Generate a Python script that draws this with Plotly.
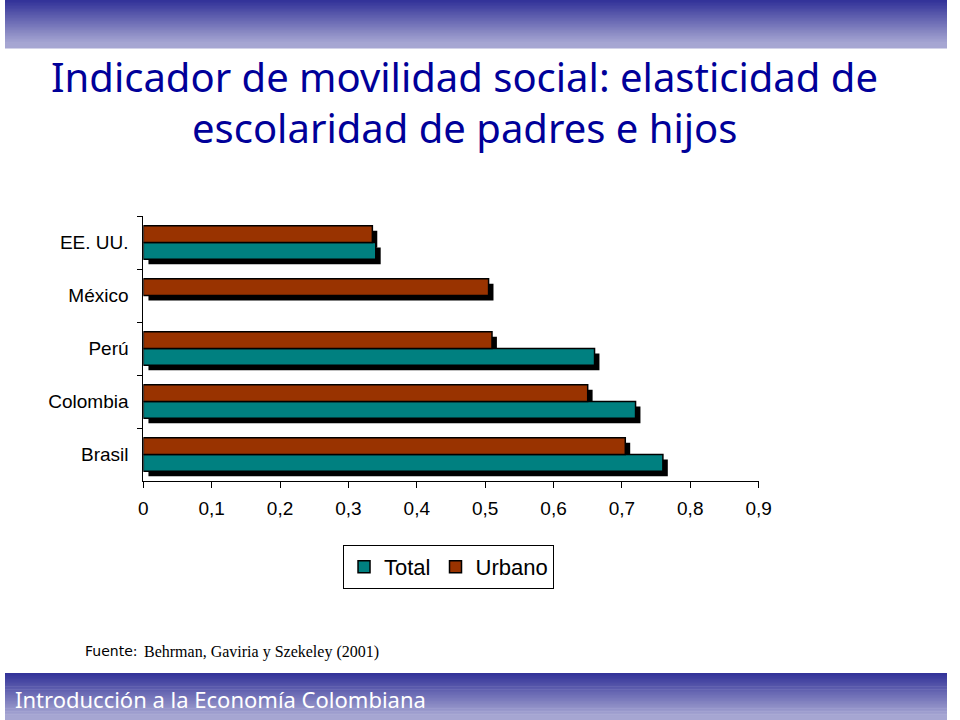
import plotly.graph_objects as go

# ------------------------------------------------------------
# Data
# ------------------------------------------------------------
paises = ["Brasil", "Colombia", "Perú", "México", "EE. UU."]
total = [0.76, 0.72, 0.66, None, 0.34]
urbano = [0.705, 0.65, 0.51, 0.505, 0.335]

titulo_1 = "Indicador de movilidad social: elasticidad de"
titulo_2 = "escolaridad de padres e hijos"
pie = "Introducción a la Economía Colombiana"

W, H = 960, 720
TEAL = "#008080"
BROWN = "#993300"
NAVY = "#000099"

# plot area in pixels (value 0 -> 141px, 0.9 -> 768px)
x0, x1 = 141, 768
y0, y1 = 216, 481
off = 5  # shadow offset in px

fig = go.Figure()

# black drop shadow, drawn first on its own (shifted) axes
for vals in (total, urbano):
    fig.add_trace(go.Bar(
        y=paises, x=vals, orientation="h",
        marker=dict(color="black", line=dict(width=0)),
        showlegend=False, hoverinfo="skip",
        xaxis="x", yaxis="y",
    ))

# main bars
fig.add_trace(go.Bar(
    y=paises, x=total, orientation="h", name="Total",
    marker=dict(color=TEAL, line=dict(color="black", width=1.5)),
    xaxis="x2", yaxis="y2",
))
fig.add_trace(go.Bar(
    y=paises, x=urbano, orientation="h", name="Urbano",
    marker=dict(color=BROWN, line=dict(color="black", width=1.5)),
    xaxis="x2", yaxis="y2",
))

# ------------------------------------------------------------
# Gradient bands at top and bottom of the slide
# ------------------------------------------------------------
dark = (51, 51, 153)
light = (166, 166, 210)
shapes = []
n = 32


def mix(t):
    return "rgb(%d,%d,%d)" % tuple(round(d + (l - d) * t) for d, l in zip(dark, light))


# header: y 0..48 px, dark on top
for i in range(n):
    t = i / (n - 1)
    ya = 48 * i / n
    yb = 48 * (i + 1) / n + 0.6
    shapes.append(dict(type="rect", xref="paper", yref="paper", layer="below",
                       x0=0, x1=1, y0=1 - yb / H, y1=1 - ya / H,
                       fillcolor=mix(min(1, t * 1.1)), line=dict(width=0)))
# footer: y 673..720 px, dark on top
for i in range(n):
    t = i / (n - 1)
    ya = 673 + 47 * i / n
    yb = 673 + 47 * (i + 1) / n + 0.6
    shapes.append(dict(type="rect", xref="paper", yref="paper", layer="below",
                       x0=0, x1=1, y0=1 - yb / H, y1=1 - ya / H,
                       fillcolor=mix(min(1, t * 1.1)), line=dict(width=0)))

# ------------------------------------------------------------
# Texts
# ------------------------------------------------------------
annotations = [
    dict(text=titulo_1, x=468 / W, y=1 - 77 / H, xref="paper", yref="paper",
         showarrow=False, xanchor="center", yanchor="middle",
         font=dict(family="Noto Sans", size=40, color=NAVY)),
    dict(text=titulo_2, x=468 / W, y=1 - 127 / H, xref="paper", yref="paper",
         showarrow=False, xanchor="center", yanchor="middle",
         font=dict(family="Noto Sans", size=40, color=NAVY)),
    dict(text="Fuente:", x=79 / W, y=1 - 651 / H, xref="paper", yref="paper",
         showarrow=False, xanchor="left", yanchor="middle",
         font=dict(family="DejaVu Sans", size=14, color="black")),
    dict(text="Behrman, Gaviria y Szekeley (2001)", x=140 / W, y=1 - 652 / H,
         xref="paper", yref="paper", showarrow=False, xanchor="left", yanchor="middle",
         font=dict(family="Liberation Serif", size=16, color="black")),
    dict(text=pie, x=8 / W, y=1 - 699 / H, xref="paper", yref="paper",
         showarrow=False, xanchor="left", yanchor="middle",
         font=dict(family="Noto Sans", size=22, color="white")),
]

# ------------------------------------------------------------
# Layout
# ------------------------------------------------------------
cat_axis = dict(type="category", categoryorder="array", categoryarray=paises,
                range=[-0.5, 4.5])
tick_font = dict(family="Liberation Sans", size=19, color="black")

fig.update_layout(
    width=W, height=H,
    margin=dict(l=0, r=0, t=0, b=0),
    paper_bgcolor="white", plot_bgcolor="rgba(0,0,0,0)",
    separators=",.",
    barmode="group", bargap=0.37, bargroupgap=0,
    shapes=shapes, annotations=annotations,
    xaxis=dict(domain=[(x0 + off) / W, (x1 + off) / W], range=[0, 0.9],
               visible=False, anchor="y"),
    yaxis=dict(domain=[1 - (y1 + off) / H, 1 - (y0 + off) / H],
               visible=False, anchor="x", **cat_axis),
    xaxis2=dict(domain=[x0 / W, x1 / W], range=[0, 0.9], dtick=0.1, anchor="y2",
                showline=True, linecolor="black", linewidth=1, showgrid=False,
                zeroline=False, ticks="outside", ticklen=6, tickcolor="black",
                ticklabelstandoff=4, tickfont=tick_font),
    yaxis2=dict(domain=[1 - y1 / H, 1 - y0 / H], anchor="x2",
                showline=True, linecolor="black", linewidth=1, showgrid=False,
                ticks="outside", ticklen=5, tickcolor="black", tickson="boundaries",
                ticklabelstandoff=10, tickfont=tick_font, **cat_axis),
    legend=dict(orientation="h", x=452 / W, xanchor="center",
                y=1 - 545 / H, yanchor="top",
                bordercolor="black", borderwidth=1, bgcolor="white",
                font=dict(family="Liberation Sans", size=22, color="black"),
                itemwidth=30, traceorder="normal"),
    showlegend=True,
)

# the page body has a default margin; drop it so the 960x720 figure fills the window
fig.write_html("out.html",
               config={"displayModeBar": False},
               post_script="document.body.style.margin='0';"
                           "document.body.style.overflow='hidden';")
